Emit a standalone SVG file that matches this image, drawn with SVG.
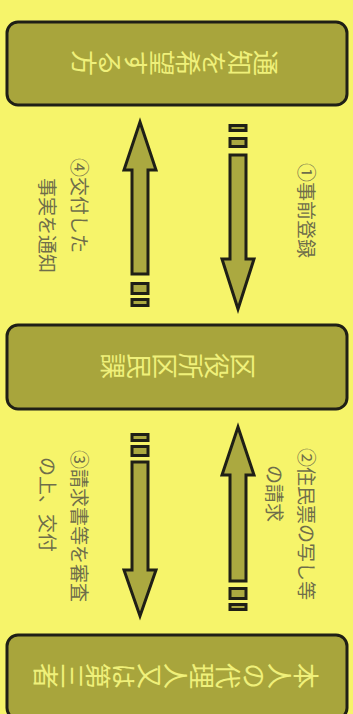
<svg xmlns="http://www.w3.org/2000/svg" width="353" height="714" viewBox="0 0 353 714">
<style>
.box{fill:#a8a53c;stroke:#1f1f16;stroke-width:3}
.arr{fill:#aba940;stroke:#1f1f16;stroke-width:3;stroke-linejoin:miter}
.bt{font-family:"Noto Sans CJK JP","Noto Sans CJK SC",sans-serif;font-size:26px;fill:#eff07a;writing-mode:vertical-rl;text-anchor:middle}
.lb{font-family:"Noto Sans CJK JP","Noto Sans CJK SC",sans-serif;font-size:19px;fill:#6f6e4a}
</style>
<rect x="0" y="0" width="353" height="714" fill="#f6f46a"/>
<g id="node-notify">
<rect class="box" x="7" y="22" width="340" height="83" rx="11"/>
<text class="bt" transform="translate(175,63) rotate(90)" x="0" y="0">通知を希望する方</text>
</g>
<g id="node-office">
<rect class="box" x="7" y="325" width="340" height="84" rx="11"/>
<text class="bt" transform="translate(178,366) rotate(90)" x="0" y="0">区役所区民課</text>
</g>
<g id="node-agent">
<rect class="box" x="7" y="635" width="340" height="84" rx="11"/>
<text class="bt" transform="translate(176,676) rotate(90)" x="0" y="0">本人の代理人又は第三者</text>
</g>
<g id="connectors">
<g id="arrow-1">
<rect class="arr" x="230" y="125.5" width="16" height="5"/>
<rect class="arr" x="230" y="138.5" width="16" height="8"/>
<polygon class="arr" points="230,155 246,155 246,259 254,259 238,309 222,259 230,259"/>
</g>
<g id="arrow-4">
<polygon class="arr" points="140,122 156,170 148,170 148,274 132,274 132,170 124,170"/>
<rect class="arr" x="132" y="283.5" width="16" height="10"/>
<rect class="arr" x="132" y="299.5" width="16" height="6"/>
</g>
<g id="arrow-2">
<polygon class="arr" points="238,427 254,475 246,475 246,581 230,581 230,475 222,475"/>
<rect class="arr" x="230" y="588.5" width="16" height="10"/>
<rect class="arr" x="230" y="604.5" width="16" height="5"/>
</g>
<g id="arrow-3">
<rect class="arr" x="132" y="434.5" width="16" height="6"/>
<rect class="arr" x="132" y="446.5" width="16" height="9"/>
<polygon class="arr" points="132,462 148,462 148,570 156,570 140,616 124,570 132,570"/>
</g>
</g>
<g id="label-1">
<text class="lb" transform="translate(299,163) rotate(90)">①事前登録</text>
</g>
<g id="label-4">
<text class="lb" transform="translate(72,158) rotate(90)">④交付した</text>
<text class="lb" transform="translate(40,178) rotate(90)">事実を通知</text>
</g>
<g id="label-2">
<text class="lb" transform="translate(299,448) rotate(90)">②住民票の写し等</text>
<text class="lb" transform="translate(267,465) rotate(90)">の請求</text>
</g>
<g id="label-3">
<text class="lb" transform="translate(72,450) rotate(90)">③請求書等を審査</text>
<text class="lb" transform="translate(40,457) rotate(90)">の上、交付</text>
</g>
</svg>
